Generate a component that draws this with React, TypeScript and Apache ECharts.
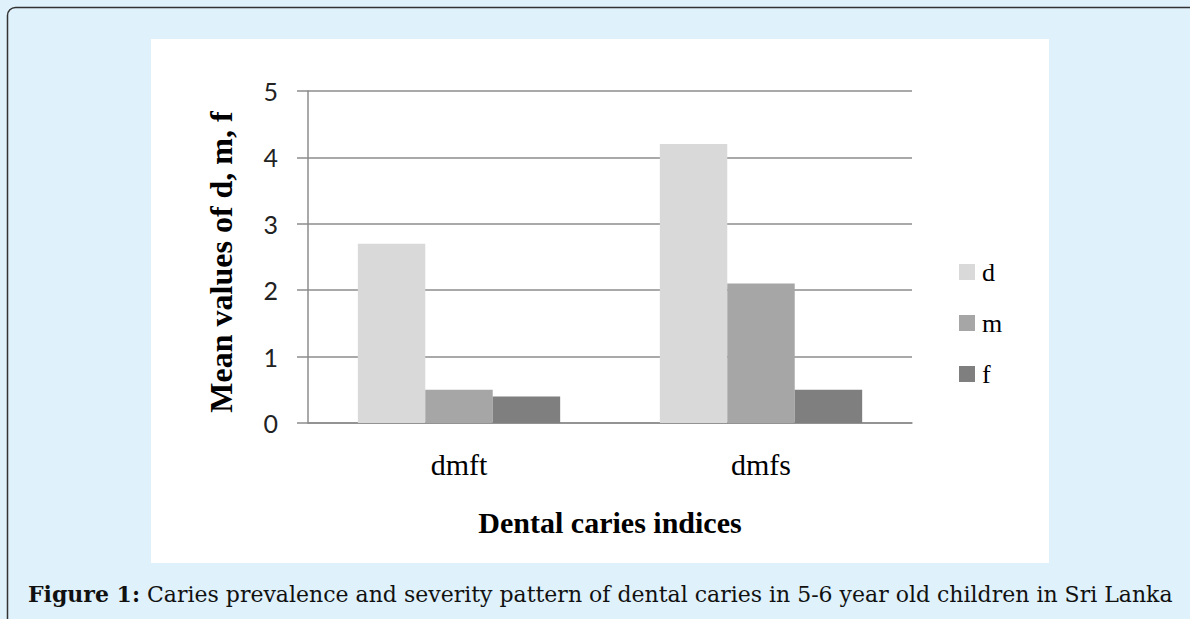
import React, { useEffect, useRef } from "react";
import * as echarts from "echarts";

const categories = ["dmft", "dmfs"];
const seriesNames = ["d", "m", "f"];
const dValues = [2.7, 4.2];
const mValues = [0.5, 2.1];
const fValues = [0.4, 0.5];
const seriesColors = ["#d9d9d9", "#a6a6a6", "#7f7f7f"];
const yTicks = [0, 1, 2, 3, 4, 5];
const yAxisTitle = "Mean values of d, m, f";
const xAxisTitle = "Dental caries indices";
const captionBold = "Figure 1:";
const captionText = " Caries prevalence and severity pattern of dental caries in 5-6 year old children in Sri Lanka";

export default function App() {
  const ref = useRef<HTMLDivElement>(null);
  useEffect(() => {
    if (!ref.current) return;
    const chart = echarts.init(ref.current, null, { renderer: "svg" });
    const serif = "Liberation Serif";
    const values = [dValues, mValues, fValues];
    chart.setOption({
      animation: false,
      backgroundColor: "#dff1fb",
      graphic: [
        {
          type: "rect",
          z: -10,
          silent: true,
          shape: { x: 7.5, y: 7.5, width: 1400, height: 800, r: 8 },
          style: { fill: "#dff1fb", stroke: "#333333", lineWidth: 1.5 },
        },
        {
          type: "rect",
          z: -9,
          silent: true,
          shape: { x: 151, y: 39, width: 898, height: 524 },
          style: { fill: "#ffffff" },
        },
        {
          type: "text",
          x: 221,
          y: 262,
          rotation: Math.PI / 2,
          style: {
            text: yAxisTitle,
            fontFamily: serif,
            fontSize: 32,
            fontWeight: "bold",
            fill: "#000",
            align: "center",
            verticalAlign: "middle",
          },
        },
        {
          type: "text",
          left: 28,
          top: 583,
          style: {
            text: "{b|" + captionBold + "}{r|" + captionText + "}",
            rich: {
              b: { fontFamily: "DejaVu Serif", fontWeight: "bold", fontSize: 22, fill: "#111" },
              r: { fontFamily: "DejaVu Serif", fontSize: 22, fill: "#111" },
            },
          },
        },
      ],
      grid: { left: 308, top: 91, right: 278, bottom: 196, containLabel: false },
      legend: {
        orient: "vertical",
        left: 954,
        top: 254,
        itemWidth: 16,
        itemHeight: 16,
        itemGap: 25,
        icon: "rect",
        data: seriesNames,
        textStyle: { fontFamily: serif, fontSize: 26, lineHeight: 25, color: "#000", padding: [0, 0, 0, 2] },
      },
      xAxis: {
        type: "category",
        data: categories,
        name: xAxisTitle,
        nameLocation: "middle",
        nameGap: 84,
        nameTextStyle: { fontFamily: serif, fontSize: 30, fontWeight: "bold", color: "#000" },
        axisLine: { lineStyle: { color: "#8c8c8c", width: 1.5 } },
        axisTick: { show: false },
        axisLabel: { fontFamily: serif, fontSize: 30, color: "#000", margin: 26 },
      },
      yAxis: {
        type: "value",
        min: yTicks[0],
        max: yTicks[yTicks.length - 1],
        interval: 1,
        axisLine: { show: true, lineStyle: { color: "#8c8c8c", width: 1.5 } },
        axisTick: { show: true, length: 11, lineStyle: { color: "#8c8c8c", width: 1.5 } },
        splitLine: { lineStyle: { color: "#8c8c8c", width: 1.5 } },
        axisLabel: { fontFamily: "Lato", fontSize: 25, color: "#222", margin: 30 },
      },
      series: seriesNames.map((name, i) => ({
        name,
        type: "bar",
        data: values[i],
        barGap: "0%",
        barCategoryGap: "33%",
        itemStyle: { color: seriesColors[i] },
      })),
    });
    return () => chart.dispose();
  }, []);
  return (
    <div
      ref={ref}
      style={{ position: "absolute", left: 0, top: 0, width: 1190, height: 619 }}
    />
  );
}
